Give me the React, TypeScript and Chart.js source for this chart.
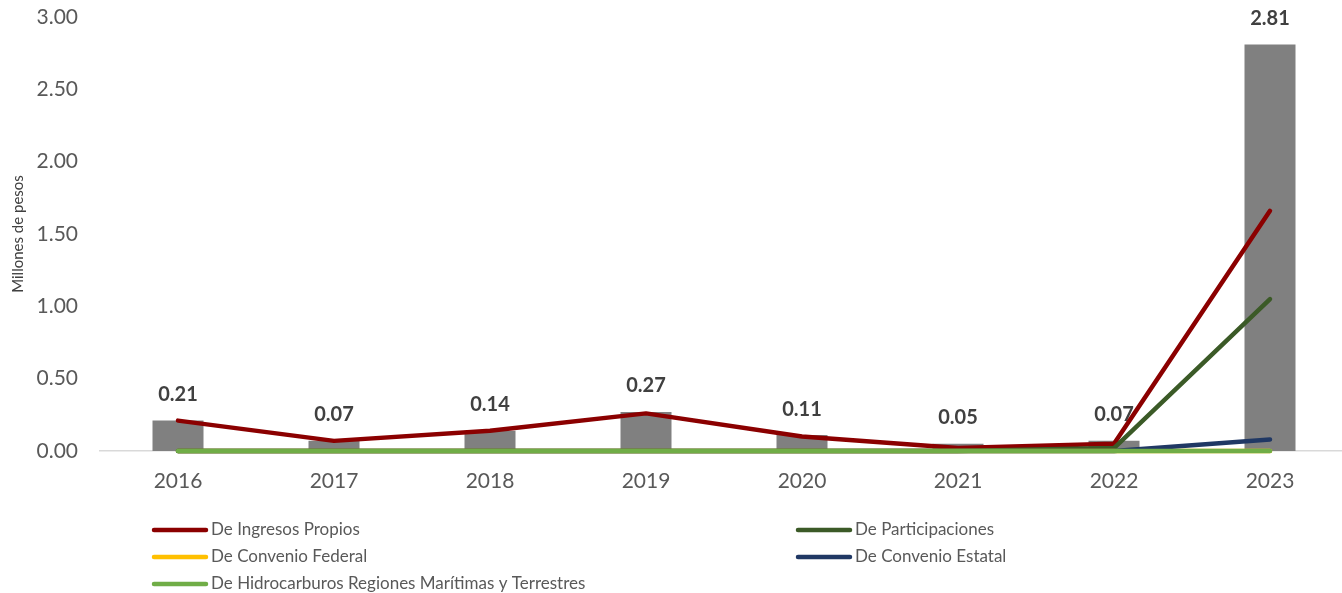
import React, { useEffect, useRef } from "react";
import { Chart, registerables } from "chart.js";

Chart.register(...registerables);

const years = ["2016", "2017", "2018", "2019", "2020", "2021", "2022", "2023"];
const totalValues = [0.21, 0.07, 0.14, 0.27, 0.11, 0.05, 0.07, 2.81];
const ingresosPropios = [0.21, 0.07, 0.14, 0.26, 0.1, 0.02, 0.05, 1.66];
const participaciones = [0, 0, 0, 0, 0, 0, 0.02, 1.05];
const convenioFederal = [0, 0, 0, 0, 0, 0, 0, 0];
const convenioEstatal = [0, 0, 0, 0, 0, 0, 0, 0.08];
const hidrocarburos = [0, 0, 0, 0, 0, 0, 0, 0];
const yTicks = [0, 0.5, 1, 1.5, 2, 2.5, 3];

const FONT = "Lato, 'Open Sans', sans-serif";

const legendItems = [
  { label: "De Ingresos Propios", color: "#8B0000", col: 0, row: 0 },
  { label: "De Participaciones", color: "#3B5A27", col: 1, row: 0 },
  { label: "De Convenio Federal", color: "#FFC000", col: 0, row: 1 },
  { label: "De Convenio Estatal", color: "#203864", col: 1, row: 1 },
  { label: "De Hidrocarburos Regiones Marítimas y Terrestres", color: "#70AD47", col: 0, row: 2 },
];

const barLabelPlugin = {
  id: "barLabels",
  afterDatasetDraw(chart: any, args: any) {
    if (args.index !== 0) return;
    const ctx = chart.ctx;
    const meta = chart.getDatasetMeta(0);
    ctx.save();
    ctx.font = `bold 20px ${FONT}`;
    ctx.fillStyle = "#404040";
    ctx.textAlign = "center";
    ctx.textBaseline = "middle";
    meta.data.forEach((bar: any, i: number) => {
      const v = chart.data.datasets[0].data[i] as number;
      ctx.fillText(v.toFixed(2), bar.x, bar.y - 26);
    });
    ctx.restore();
  },
};

const customLegendPlugin = {
  id: "customLegend",
  afterDraw(chart: any) {
    const ctx = chart.ctx;
    const colX = [152, 796];
    const rowY = [530, 557, 584];
    ctx.save();
    ctx.font = `17px ${FONT}`;
    ctx.textBaseline = "middle";
    ctx.textAlign = "left";
    legendItems.forEach((it) => {
      const x = colX[it.col];
      const y = rowY[it.row];
      ctx.strokeStyle = it.color;
      ctx.lineWidth = 4.5;
      ctx.lineCap = "round";
      ctx.beginPath();
      ctx.moveTo(x + 2, y);
      ctx.lineTo(x + 54, y);
      ctx.stroke();
      ctx.fillStyle = "#595959";
      ctx.fillText(it.label, x + 59, y);
    });
    ctx.restore();
  },
};

function lineDs(label: string, data: number[], color: string, order: number) {
  return {
    type: "line" as const,
    label,
    data,
    borderColor: color,
    backgroundColor: color,
    borderWidth: 4.5,
    pointRadius: 0,
    pointHoverRadius: 0,
    tension: 0,
    borderCapStyle: "round" as const,
    borderJoinStyle: "round" as const,
    fill: false,
    clip: false as const,
    order,
  };
}

export default function App() {
  const canvasRef = useRef<HTMLCanvasElement | null>(null);

  useEffect(() => {
    document.body.style.margin = "0";
    document.body.style.overflow = "hidden";
    const canvas = canvasRef.current;
    if (!canvas) return;
    const chart = new Chart(canvas, {
      type: "bar",
      data: {
        labels: years,
        datasets: [
          {
            type: "bar" as const,
            label: "Total",
            data: totalValues,
            backgroundColor: "#808080",
            barPercentage: 0.327,
            categoryPercentage: 1,
            order: 10,
          } as any,
          lineDs("De Ingresos Propios", ingresosPropios, "#8B0000", 5),
          lineDs("De Participaciones", participaciones, "#3B5A27", 4),
          lineDs("De Convenio Federal", convenioFederal, "#FFC000", 3),
          lineDs("De Convenio Estatal", convenioEstatal, "#203864", 2),
          lineDs("De Hidrocarburos Regiones Marítimas y Terrestres", hidrocarburos, "#70AD47", 1),
        ],
      },
      options: {
        responsive: false,
        animation: false,
        layout: { padding: { top: 17, right: 2, left: 0, bottom: 0 } },
        plugins: {
          legend: { display: false },
          tooltip: { enabled: false },
        },
        scales: {
          x: {
            offset: true,
            grid: { display: false, drawTicks: false },
            border: { display: true, color: "#D9D9D9", width: 1.5 },
            ticks: {
              color: "#595959",
              font: { family: FONT, size: 21 },
              padding: 18,
              maxRotation: 0,
            },
            afterFit(scale: any) {
              scale.height = 142;
              scale.paddingLeft = 0;
              scale.paddingRight = 0;
            },
          },
          y: {
            min: 0,
            max: 3,
            afterBuildTicks(scale: any) {
              scale.ticks = yTicks.map((v) => ({ value: v }));
            },
            grid: { display: false, drawTicks: false },
            border: { display: false },
            ticks: {
              color: "#595959",
              font: { family: FONT, size: 21 },
              padding: 22,
              callback: (v: any) => Number(v).toFixed(2),
            },
            title: {
              display: true,
              text: "Millones de pesos",
              color: "#404040",
              font: { family: FONT, size: 15 },
              padding: { top: 9, bottom: 0 },
            },
            afterFit(scale: any) {
              scale.width = 100;
              scale.paddingTop = 0;
              scale.paddingBottom = 0;
            },
          },
        },
      },
      plugins: [barLabelPlugin, customLegendPlugin],
    });
    return () => chart.destroy();
  }, []);

  return (
    <div style={{ width: 1342, height: 593, overflow: "hidden", position: "relative" }}>
      <canvas ref={canvasRef} width={1350} height={593} style={{ display: "block" }} />
    </div>
  );
}
